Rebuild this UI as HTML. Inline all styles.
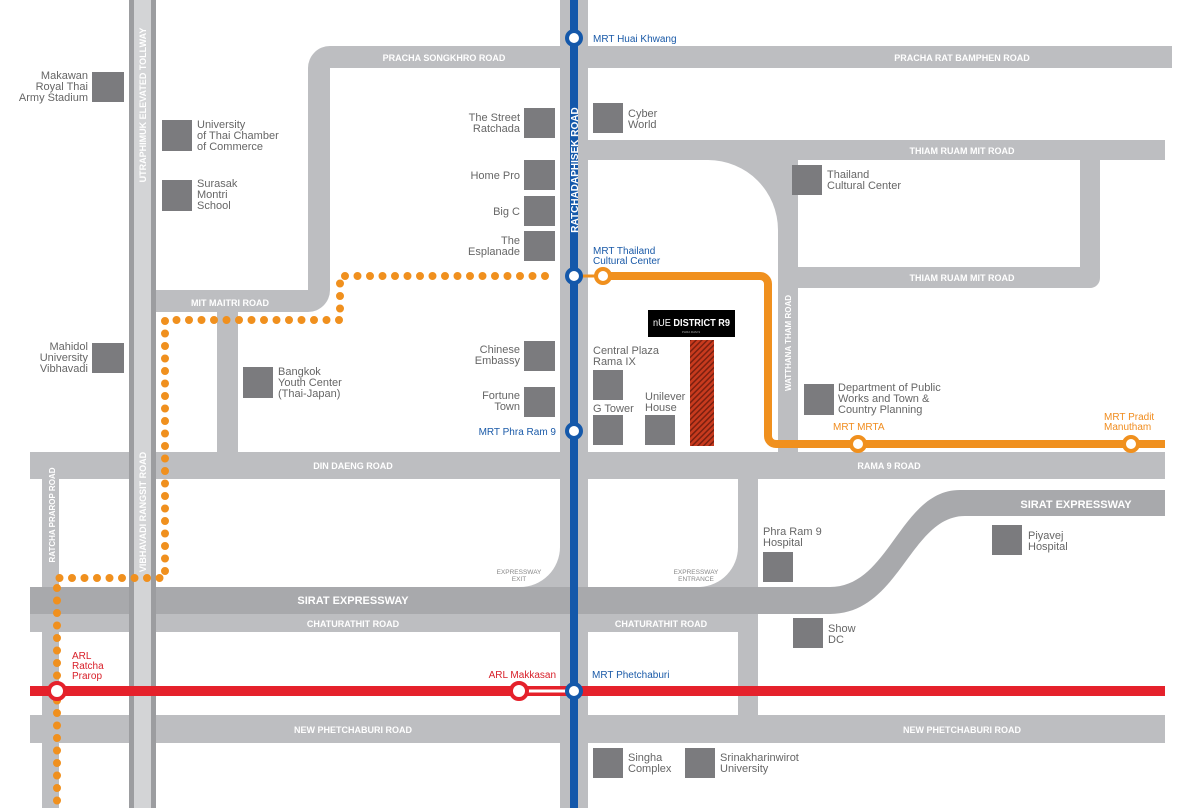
<!DOCTYPE html>
<html><head><meta charset="utf-8"><style>
html,body{margin:0;padding:0;background:#fff}
svg{display:block}
text{font-family:"Liberation Sans",Arial,sans-serif}
.rl{fill:#fff;font-size:9px;font-weight:bold}
.lb{fill:#666;font-size:11px}
.bl{fill:#1a5aa8;font-size:10px}
.og{fill:#f08c1e;font-size:10px}
.rd{fill:#d8202a;font-size:10px}
</style></head><body>
<svg width="1200" height="808" viewBox="0 0 1200 808">
<g fill="#bdbec1">
<path d="M330 68 H560 V46 H330 A22 22 0 0 0 308 68 V290 H156 V312 H308 A22 22 0 0 0 330 290 Z"/>
<rect x="588" y="46" width="584" height="22"/>
<path d="M588 140 H1165 V160 H798 V452 H778 V230 A70 70 0 0 0 708 160 H588 Z"/>
<path d="M1080 160 H1100 V278 A10 10 0 0 1 1090 288 H798 V267 H1080 Z"/>
<rect x="217" y="312" width="21" height="140"/>
<rect x="30" y="452" width="1135" height="27"/>
<rect x="42" y="479" width="17" height="329"/>
<rect x="738" y="479" width="20" height="236"/>
<rect x="30" y="614" width="710" height="18"/>
<rect x="30" y="715" width="1135" height="28"/>
<rect x="560" y="0" width="28" height="808"/>
</g>
<path fill="#a8a9ac" d="M30 587 H830 C890 587 900 490 960 490 H1165 V516 H965 C910 516 900 614 830 614 H30 Z"/>
<path fill="#bdbec1" d="M520 587 A40 40 0 0 0 560 547 V587 Z"/>
<path fill="#bdbec1" d="M700 587 A40 40 0 0 0 738 547 V587 Z"/>
<rect x="129" y="0" width="27" height="808" fill="#9c9da0"/>
<rect x="134" y="0" width="17" height="808" fill="#d3d4d6"/>
<rect x="30" y="686" width="1135" height="10" fill="#e5212b"/>
<path d="M603 276 H760 A8 8 0 0 1 768 284 V436 A8 8 0 0 0 776 444 H1165" fill="none" stroke="#f0901e" stroke-width="8"/>
<path d="M545 276 H340 V320 H165 V578 H57 V808" fill="none" stroke="#f0901e" stroke-width="8" stroke-linecap="round" stroke-dasharray="0 12.5"/>
<rect x="570" y="0" width="8" height="808" fill="#1458aa"/>
<line x1="574" y1="276" x2="603" y2="276" stroke="#f0901e" stroke-width="3"/>
<line x1="519" y1="691" x2="574" y2="691" stroke="#e5212b" stroke-width="10"/>
<line x1="519" y1="691" x2="574" y2="691" stroke="#fff" stroke-width="3"/>
<g fill="#fff" stroke-width="4">
<circle cx="574" cy="38" r="7" stroke="#1458aa"/>
<circle cx="574" cy="276" r="7" stroke="#1458aa"/>
<circle cx="574" cy="431" r="7" stroke="#1458aa"/>
<circle cx="574" cy="691" r="7" stroke="#1458aa"/>
<circle cx="603" cy="276" r="7" stroke="#f0901e"/>
<circle cx="858" cy="444" r="7" stroke="#f0901e"/>
<circle cx="1131" cy="444" r="7" stroke="#f0901e"/>
<circle cx="57" cy="691" r="8" stroke="#e5212b"/>
<circle cx="519" cy="691" r="8" stroke="#e5212b"/>
</g>
<g fill="#7b7b7e">
<rect x="92" y="72" width="32" height="30"/><rect x="162" y="120" width="30" height="31"/><rect x="162" y="180" width="30" height="31"/>
<rect x="92" y="343" width="32" height="30"/><rect x="243" y="367" width="30" height="31"/>
<rect x="524" y="108" width="31" height="30"/><rect x="524" y="160" width="31" height="30"/><rect x="524" y="196" width="31" height="30"/><rect x="524" y="231" width="31" height="30"/>
<rect x="524" y="341" width="31" height="30"/><rect x="524" y="387" width="31" height="30"/>
<rect x="593" y="103" width="30" height="30"/><rect x="593" y="370" width="30" height="30"/><rect x="593" y="415" width="30" height="30"/><rect x="645" y="415" width="30" height="30"/>
<rect x="792" y="165" width="30" height="30"/><rect x="804" y="384" width="30" height="31"/>
<rect x="763" y="552" width="30" height="30"/><rect x="992" y="525" width="30" height="30"/><rect x="793" y="618" width="30" height="30"/>
<rect x="593" y="748" width="30" height="30"/><rect x="685" y="748" width="30" height="30"/>
</g>
<defs><pattern id="h" width="4" height="4" patternUnits="userSpaceOnUse" patternTransform="rotate(45)"><rect width="4" height="4" fill="#c83a1e"/><rect width="1.5" height="4" fill="#7a2010"/></pattern></defs>
<rect x="690" y="340" width="24" height="106" fill="url(#h)"/>
<rect x="648" y="310" width="87" height="27" fill="#000"/>
<text x="653" y="326" fill="#fff" font-size="10.5" textLength="77" lengthAdjust="spacingAndGlyphs"><tspan>nUE</tspan><tspan font-weight="bold"> DISTRICT R9</tspan></text>
<text x="691" y="333" fill="#aaa" font-size="3" text-anchor="middle">PHRA RAM 9</text>
<g class="rl" text-anchor="middle">
<text x="444" y="61">PRACHA SONGKHRO ROAD</text>
<text x="962" y="61">PRACHA RAT BAMPHEN ROAD</text>
<text x="962" y="154">THIAM RUAM MIT ROAD</text>
<text x="962" y="281">THIAM RUAM MIT ROAD</text>
<text x="230" y="306">MIT MAITRI ROAD</text>
<text x="353" y="469">DIN DAENG ROAD</text>
<text x="889" y="469">RAMA 9 ROAD</text>
<text x="353" y="627">CHATURATHIT ROAD</text>
<text x="661" y="627">CHATURATHIT ROAD</text>
<text x="353" y="733">NEW PHETCHABURI ROAD</text>
<text x="962" y="733">NEW PHETCHABURI ROAD</text>
<text x="353" y="604" font-size="11">SIRAT EXPRESSWAY</text>
<text x="1076" y="508" font-size="11">SIRAT EXPRESSWAY</text>
<text transform="translate(578,170) rotate(-90)" font-size="10">RATCHADAPHISEK ROAD</text>
<text transform="translate(146,105) rotate(-90)">UTRAPHIMUK ELEVATED TOLLWAY</text>
<text transform="translate(146,512) rotate(-90)">VIBHAVADI RANGSIT ROAD</text>
<text transform="translate(55,515) rotate(-90)" font-size="8">RATCHA PRAROP ROAD</text>
<text transform="translate(791,343) rotate(-90)" font-size="8">WATTHANA THAM ROAD</text>
</g>
<g fill="#888" font-size="6.5" text-anchor="middle"><text x="519" y="574">EXPRESSWAY</text><text x="519" y="581">EXIT</text><text x="696" y="574">EXPRESSWAY</text><text x="696" y="581">ENTRANCE</text></g>
<g class="lb" text-anchor="end">
<text x="88" y="79">Makawan</text><text x="88" y="90">Royal Thai</text><text x="88" y="101">Army Stadium</text>
<text x="88" y="350">Mahidol</text><text x="88" y="361">University</text><text x="88" y="372">Vibhavadi</text>
<text x="520" y="121">The Street</text><text x="520" y="132">Ratchada</text>
<text x="520" y="179">Home Pro</text><text x="520" y="215">Big C</text>
<text x="520" y="244">The</text><text x="520" y="255">Esplanade</text>
<text x="520" y="353">Chinese</text><text x="520" y="364">Embassy</text>
<text x="520" y="399">Fortune</text><text x="520" y="410">Town</text>
</g>
<g class="lb">
<text x="197" y="128">University</text><text x="197" y="139">of Thai Chamber</text><text x="197" y="150">of Commerce</text>
<text x="197" y="187">Surasak</text><text x="197" y="198">Montri</text><text x="197" y="209">School</text>
<text x="278" y="375">Bangkok</text><text x="278" y="386">Youth Center</text><text x="278" y="397">(Thai-Japan)</text>
<text x="628" y="117">Cyber</text><text x="628" y="128">World</text>
<text x="827" y="178">Thailand</text><text x="827" y="189">Cultural Center</text>
<text x="593" y="354">Central Plaza</text><text x="593" y="365">Rama IX</text>
<text x="593" y="412">G Tower</text><text x="645" y="400">Unilever</text><text x="645" y="411">House</text>
<text x="838" y="391">Department of Public</text><text x="838" y="402">Works and Town &amp;</text><text x="838" y="413">Country Planning</text>
<text x="763" y="535">Phra Ram 9</text><text x="763" y="546">Hospital</text>
<text x="1028" y="539">Piyavej</text><text x="1028" y="550">Hospital</text>
<text x="828" y="632">Show</text><text x="828" y="643">DC</text>
<text x="628" y="761">Singha</text><text x="628" y="772">Complex</text>
<text x="720" y="761">Srinakharinwirot</text><text x="720" y="772">University</text>
</g>
<g class="bl"><text x="593" y="42">MRT Huai Khwang</text><text x="593" y="254">MRT Thailand</text><text x="593" y="264">Cultural Center</text><text x="592" y="678">MRT Phetchaburi</text></g>
<text class="bl" x="556" y="435" text-anchor="end">MRT Phra Ram 9</text>
<g class="og"><text x="833" y="430">MRT MRTA</text><text x="1104" y="420">MRT Pradit</text><text x="1104" y="430">Manutham</text></g>
<g class="rd"><text x="72" y="659">ARL</text><text x="72" y="669">Ratcha</text><text x="72" y="679">Prarop</text><text x="556" y="678" text-anchor="end">ARL Makkasan</text></g>
</svg>
</body></html>
